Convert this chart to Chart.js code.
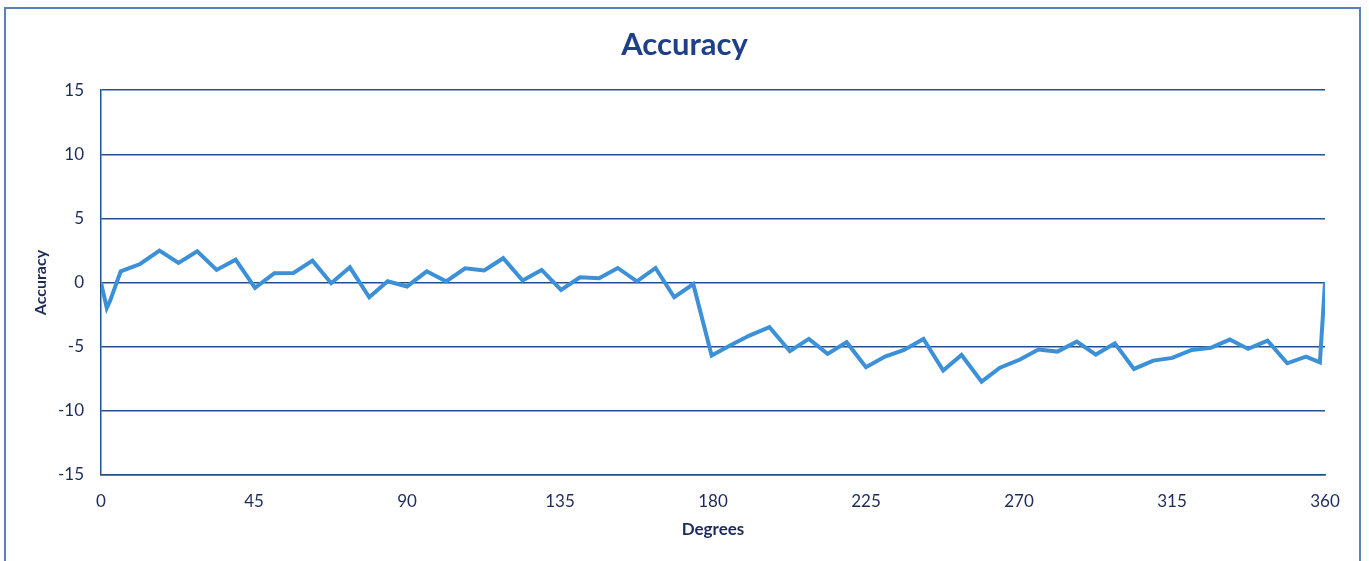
<!DOCTYPE html>
<html>
<head>
<meta charset="utf-8">
<script src="https://cdn.jsdelivr.net/npm/chart.js@4"></script>
<style>
  html, body { margin: 0; padding: 0; background: #fff; }
  #wrap { position: relative; width: 1369px; height: 561px; }
</style>
</head>
<body>
<div id="wrap"><canvas id="accChart" width="1369" height="561"></canvas></div>
<script>
const degrees = [0, 1.7, 2.7, 5.8, 11.5, 17.2, 22.8, 28.3, 34.0, 39.6, 45.3, 51.0, 56.6, 62.2, 67.7, 73.2,
    78.9, 84.3, 90.0, 95.8, 101.5, 107.1, 112.7, 118.3, 124.0, 129.6, 135.3, 140.9, 146.5, 152.0, 157.6,
    163.1, 168.6, 174.2, 179.6, 185.0, 190.7, 196.6, 202.6, 208.2, 213.7, 219.3, 225.0, 230.6, 236.2,
    241.9, 247.7, 253.1, 259.0, 264.4, 270.3, 275.7, 281.3, 287.0, 292.6, 298.2, 303.8, 309.5, 315.1,
    320.8, 326.4, 332.0, 337.4, 343.1, 348.9, 354.4, 358.5, 360];
const accuracy = [0, -1.98, -1.4, 0.88, 1.45, 2.49, 1.53, 2.44, 0.99, 1.79, -0.41, 0.73, 0.75, 1.71, -0.05,
    1.19, -1.14, 0.1, -0.3, 0.88, 0.1, 1.12, 0.94, 1.9, 0.16, 0.99, -0.57, 0.41, 0.34, 1.14, 0.1, 1.14,
    -1.14, -0.12, -5.69, -4.91, -4.13, -3.48, -5.35, -4.39, -5.56, -4.65, -6.6, -5.77, -5.25, -4.39,
    -6.86, -5.64, -7.72, -6.64, -6.0, -5.22, -5.38, -4.6, -5.61, -4.73, -6.73, -6.08, -5.87, -5.25,
    -5.09, -4.44, -5.17, -4.52, -6.29, -5.77, -6.21, 0];
const xTicks = [0, 45, 90, 135, 180, 225, 270, 315, 360];
const yTicks = [-15, -10, -5, 0, 5, 10, 15];

const navy = '#1f3f86';
const gridBlue = '#22508f';
const tickColor = '#1c2b5a';

// outer frame like the spreadsheet chart border, title centred on the whole canvas
const framePlugin = {
    id: 'frame',
    afterLayout(chart) {
        if (chart.titleBlock) {
            chart.titleBlock.left = 0;
            chart.titleBlock.right = chart.width;
        }
    },
    beforeDraw(chart) {
        const ctx = chart.ctx;
        ctx.save();
        ctx.strokeStyle = '#5b80bb';
        ctx.lineWidth = 2;
        ctx.strokeRect(5, 8, 1355, 600);
        ctx.restore();
    }
};

const points = degrees.map((d, i) => ({ x: d, y: accuracy[i] }));

new Chart(document.getElementById('accChart').getContext('2d'), {
    type: 'line',
    data: {
        datasets: [{
            label: 'Accuracy',
            data: points,
            borderColor: '#3b90d8',
            borderWidth: 4,
            pointRadius: 0,
            tension: 0,
            fill: false,
        }]
    },
    options: {
        responsive: false,
        animation: false,
        layout: { padding: { left: 0, right: 44, top: 0, bottom: 0 } },
        plugins: {
            legend: { display: false },
            tooltip: { enabled: false },
            title: {
                display: true,
                text: 'Accuracy',
                color: navy,
                font: { family: 'Lato', size: 31, weight: 'bold' },
                padding: { top: 26, bottom: 27 },
            },
        },
        scales: {
            x: {
                type: 'linear',
                min: 0,
                max: 360,
                afterBuildTicks: s => { s.ticks = xTicks.map(v => ({ value: v })); },
                afterFit: s => { s.height = 86; },
                grid: { display: false, drawTicks: false },
                border: { display: true, color: gridBlue, width: 1.5 },
                ticks: {
                    color: tickColor,
                    padding: 16,
                    maxRotation: 0,
                    font: { family: 'Lato', size: 17 },
                },
                title: {
                    display: true,
                    text: 'Degrees',
                    color: tickColor,
                    font: { family: 'Lato', size: 17, weight: 'bold' },
                    padding: { top: 4, bottom: 21 },
                },
            },
            y: {
                min: -15,
                max: 15,
                afterBuildTicks: s => { s.ticks = yTicks.map(v => ({ value: v })); },
                afterFit: s => { s.width = 101; },
                grid: { color: gridBlue, lineWidth: 1.5, drawTicks: false },
                border: { display: true, color: gridBlue, width: 1.5 },
                ticks: {
                    color: tickColor,
                    padding: 17,
                    font: { family: 'Lato', size: 17 },
                },
                title: {
                    display: true,
                    text: 'Accuracy',
                    color: tickColor,
                    font: { family: 'Lato', size: 16, weight: 'bold' },
                    padding: { top: 31, bottom: 4 },
                },
            },
        },
    },
    plugins: [framePlugin],
});
</script>
</body>
</html>
